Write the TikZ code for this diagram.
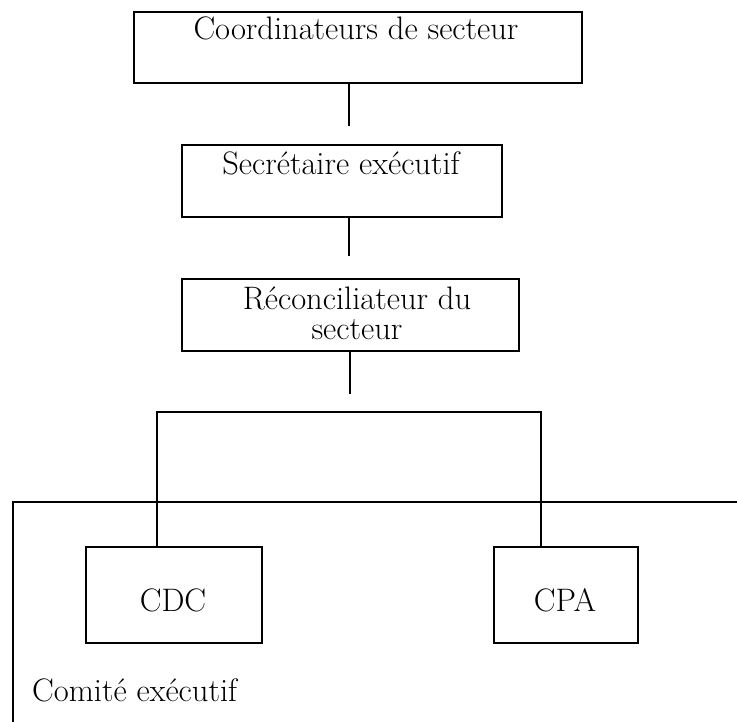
\documentclass[tikz,border=0pt]{standalone}
\begin{document}
\begin{tikzpicture}[x=1pt,y=-1pt,
  line/.style={line width=1.6pt, black},
  orgbox/.style={draw, line width=1.6pt, rectangle, inner sep=0pt, anchor=north west},
  lbl/.style={inner sep=0pt, anchor=base, font=\fontsize{32.5}{30}\selectfont, align=center}]
  \useasboundingbox (0,0) rectangle (737,722);

  % boxes of the hierarchy
  \node[orgbox, minimum width=448pt, minimum height=71pt] (coord) at (133,11) {};
  \node[orgbox, minimum width=320pt, minimum height=72pt] (secr) at (181,144) {};
  \node[orgbox, minimum width=337pt, minimum height=72pt] (recon) at (181,278) {};
  \node[orgbox, minimum width=176pt, minimum height=96pt] (cdc) at (85,546) {};
  \node[orgbox, minimum width=144pt, minimum height=96pt] (cpa) at (493,546) {};

  % labels
  \node[lbl] (tcoord) at (356,40) {Coordinateurs de secteur};
  \node[lbl] (tsecr) at (341,175) {Secrétaire exécutif};
  \node[lbl] (trecon) at (357,340) {Réconciliateur du\\secteur};
  \node[lbl] (tcdc) at (173,611) {CDC};
  \node[lbl] (tcpa) at (565,611) {CPA};
  \node[lbl, anchor=base west] (tcomite) at (32,701) {Comité exécutif};

  % vertical stubs below each box
  \coordinate (e1) at (349,126);
  \coordinate (e2) at (349,256);
  \coordinate (e3) at (350,394);
  \draw[line] (coord.south -| e1) -- (e1);
  \draw[line] (secr.south -| e2) -- (e2);
  \draw[line] (recon.south -| e3) -- (e3);

  % branch to the two committees
  \coordinate (bl) at (157,412);
  \coordinate (br) at (541,412);
  \draw[line] (cdc.north -| bl) -- (bl) -- (br) -- (cpa.north -| br);

  % frame of the executive committee
  \coordinate (f0) at (13,722);
  \coordinate (f1) at (13,502);
  \coordinate (f2) at (737,502);
  \draw[line] (f0) -- (f1) -- (f2);
\end{tikzpicture}
\end{document}
